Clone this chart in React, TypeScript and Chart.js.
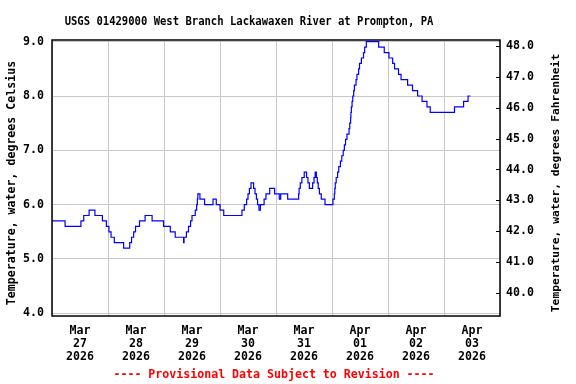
import React, { useEffect, useRef } from "react";
import { Chart, registerables } from "chart.js";

Chart.register(...registerables);

const TITLE = "USGS 01429000 West Branch Lackawaxen River at Prompton, PA";
const FOOTER = "---- Provisional Data Subject to Revision ----";
const Y_LEFT_TITLE = "Temperature, water, degrees Celsius";
const Y_RIGHT_TITLE = "Temperature, water, degrees Fahrenheit";

// x axis: hours since Mar 27 2026 00:00
const dayTicks = [0, 24, 48, 72, 96, 120, 144, 168, 192];
const dayLabels = [
  ["Mar", "27", "2026"],
  ["Mar", "28", "2026"],
  ["Mar", "29", "2026"],
  ["Mar", "30", "2026"],
  ["Mar", "31", "2026"],
  ["Apr", "01", "2026"],
  ["Apr", "02", "2026"],
  ["Apr", "03", "2026"],
];
const celsiusTicks = [4, 5, 6, 7, 8, 9];
const fahrenheitTicks = [40, 41, 42, 43, 44, 45, 46, 47, 48];

// change points of the stepped series (hour, degrees C)
const hours = [
  0, 5.6, 12.4, 13.6, 15.9, 18.4, 21.6, 23.3, 24.4, 25.3, 26.7, 30.7, 33.3, 34.1, 35.0, 35.8, 37.5, 39.9, 42.9, 47.8,
  50.7, 52.8, 56.4, 56.6, 57.6, 58.5, 59.4, 60.0, 61.4, 62.0, 62.3, 62.5, 63.4, 65.4, 69.0, 70.4, 72.0, 73.6,
  81.4, 82.4, 83.4, 84.0, 84.6, 85.3, 86.4, 87.0, 87.6, 88.1, 88.7, 89.3, 90.9, 91.7, 93.3, 95.4, 97.4, 98.0,
  101.0, 105.7, 105.9, 106.4, 107.1, 108.1, 109.1, 109.7, 110.3, 111.7, 112.3, 112.8, 113.3, 113.7, 114.1, 114.6,
  115.4, 117.0, 120.4, 121.0, 121.2, 121.4, 121.8, 122.4, 122.9, 123.6, 124.2, 124.8, 125.3, 125.8, 126.4, 127.3,
  127.6, 128.0, 128.1, 128.3, 128.6, 128.9, 129.3, 129.6, 130.3, 130.7, 131.4, 131.8, 132.6, 133.5, 134.0, 134.7,
  140.0, 142.4, 144.4, 146.0, 146.8, 148.5, 149.6, 152.4, 154.5, 156.7, 158.6, 160.7, 162.1, 172.5, 176.4, 178.3, 179.3,
];
const tempC = [
  5.7, 5.6, 5.7, 5.8, 5.9, 5.8, 5.7, 5.6, 5.5, 5.4, 5.3, 5.2, 5.3, 5.4, 5.5, 5.6, 5.7, 5.8, 5.7, 5.6,
  5.5, 5.4, 5.3, 5.4, 5.5, 5.6, 5.7, 5.8, 5.9, 6.0, 6.1, 6.2, 6.1, 6.0, 6.1, 6.0, 5.9, 5.8,
  5.9, 6.0, 6.1, 6.2, 6.3, 6.4, 6.3, 6.2, 6.1, 6.0, 5.9, 6.0, 6.1, 6.2, 6.3, 6.2, 6.1, 6.2,
  6.1, 6.2, 6.3, 6.4, 6.5, 6.6, 6.5, 6.4, 6.3, 6.4, 6.5, 6.6, 6.5, 6.4, 6.3, 6.2,
  6.1, 6.0, 6.1, 6.2, 6.3, 6.4, 6.5, 6.6, 6.7, 6.8, 6.9, 7.0, 7.1, 7.2, 7.3, 7.4,
  7.5, 7.6, 7.7, 7.8, 7.9, 8.0, 8.1, 8.2, 8.3, 8.4, 8.5, 8.6, 8.7, 8.8, 8.9, 9.0,
  8.9, 8.8, 8.7, 8.6, 8.5, 8.4, 8.3, 8.2, 8.1, 8.0, 7.9, 7.8, 7.7, 7.8, 7.9, 8.0, 8.0,
];

const FONT = '"DejaVu Sans Mono", monospace';
const GRID = "#c8c8c8";

const decor = {
  id: "decor",
  afterDraw(chart: any) {
    const { ctx, chartArea: a } = chart;
    ctx.save();
    ctx.strokeStyle = "#000";
    ctx.lineWidth = 1.5;
    ctx.strokeRect(a.left, a.top, a.right - a.left, a.bottom - a.top);
    const y2 = chart.scales.y2;
    ctx.lineWidth = 1;
    for (const v of fahrenheitTicks) {
      const y = Math.round(y2.getPixelForValue(v)) + 0.5;
      ctx.beginPath();
      ctx.moveTo(a.right - 4, y);
      ctx.lineTo(a.right, y);
      ctx.stroke();
    }
    ctx.fillStyle = "#000";
    ctx.textAlign = "center";
    ctx.textBaseline = "alphabetic";
    ctx.save();
    ctx.translate(249, 24.5);
    ctx.scale(0.88, 1);
    ctx.font = `bold 12px ${FONT}`;
    ctx.fillText(TITLE, 0, 0);
    ctx.restore();

    ctx.textBaseline = "middle";
    ctx.font = `bold 11.6px ${FONT}`;
    ctx.fillStyle = "#ff0000";
    ctx.fillText(FOOTER, 274, 375);

    ctx.fillStyle = "#000";
    ctx.save();
    ctx.translate(12, 183);
    ctx.rotate(-Math.PI / 2);
    ctx.fillText(Y_LEFT_TITLE, 0, 0);
    ctx.restore();

    ctx.save();
    ctx.translate(556, 183);
    ctx.rotate(-Math.PI / 2);
    ctx.font = `bold 11.3px ${FONT}`;
    ctx.fillText(Y_RIGHT_TITLE, 0, 0);
    ctx.restore();
    ctx.restore();
  },
};

export default function App() {
  const ref = useRef<HTMLCanvasElement | null>(null);
  useEffect(() => {
    if (!ref.current) return;
    const tickFont = { family: FONT, size: 11.6, weight: "bold" as const, lineHeight: 1.09 };
    const chart = new Chart(ref.current, {
      type: "line",
      data: {
        datasets: [
          {
            data: hours.map((h, i) => ({ x: h, y: tempC[i] })),
            borderColor: "#0000ff",
            borderWidth: 1.2,
            pointRadius: 0,
            stepped: "before",
            fill: false,
            yAxisID: "y",
            xAxisID: "x",
          },
        ],
      },
      options: {
        animation: false,
        responsive: false,
        events: [],
        layout: { padding: { top: 40, left: 0, right: 0, bottom: 0 } },
        plugins: { legend: { display: false }, tooltip: { enabled: false }, title: { display: false } },
        scales: {
          x: {
            type: "linear",
            position: "bottom",
            min: 0,
            max: 192,
            afterBuildTicks: (s: any) => {
              s.ticks = dayTicks.map((v) => ({ value: v }));
            },
            afterFit: (s: any) => {
              s.height = 68;
            },
            grid: { color: GRID, lineWidth: 1, drawTicks: false },
            border: { display: false },
            ticks: {
              autoSkip: false,
              maxRotation: 0,
              minRotation: 0,
              labelOffset: 28,
              padding: 9,
              color: "#000",
              font: tickFont,
              callback: (_v: any, i: number) => (dayLabels[i] ? dayLabels[i] : ""),
            },
          },
          y: {
            type: "linear",
            position: "left",
            min: 3.95,
            max: 9.031,
            afterBuildTicks: (s: any) => {
              s.ticks = celsiusTicks.map((v) => ({ value: v }));
            },
            afterFit: (s: any) => {
              s.width = 52;
            },
            grid: { color: GRID, lineWidth: 1, drawTicks: false },
            border: { display: false },
            ticks: {
              padding: 8,
              color: "#000",
              font: tickFont,
              callback: (v: any) => Number(v).toFixed(1),
            },
          },
          y2: {
            type: "linear",
            position: "right",
            min: 39.255,
            max: 48.194,
            afterBuildTicks: (s: any) => {
              s.ticks = fahrenheitTicks.map((v) => ({ value: v }));
            },
            afterFit: (s: any) => {
              s.width = 76;
            },
            grid: { drawOnChartArea: false, drawTicks: false },
            border: { display: false },
            ticks: {
              padding: 6,
              color: "#000",
              font: tickFont,
              callback: (v: any) => Number(v).toFixed(1),
            },
          },
        },
      },
      plugins: [decor],
    });
    return () => chart.destroy();
  }, []);
  return (
    <div style={{ position: "absolute", left: 0, top: 0, width: 576, height: 384, background: "#fff" }}>
      <canvas ref={ref} width={576} height={384} />
    </div>
  );
}
